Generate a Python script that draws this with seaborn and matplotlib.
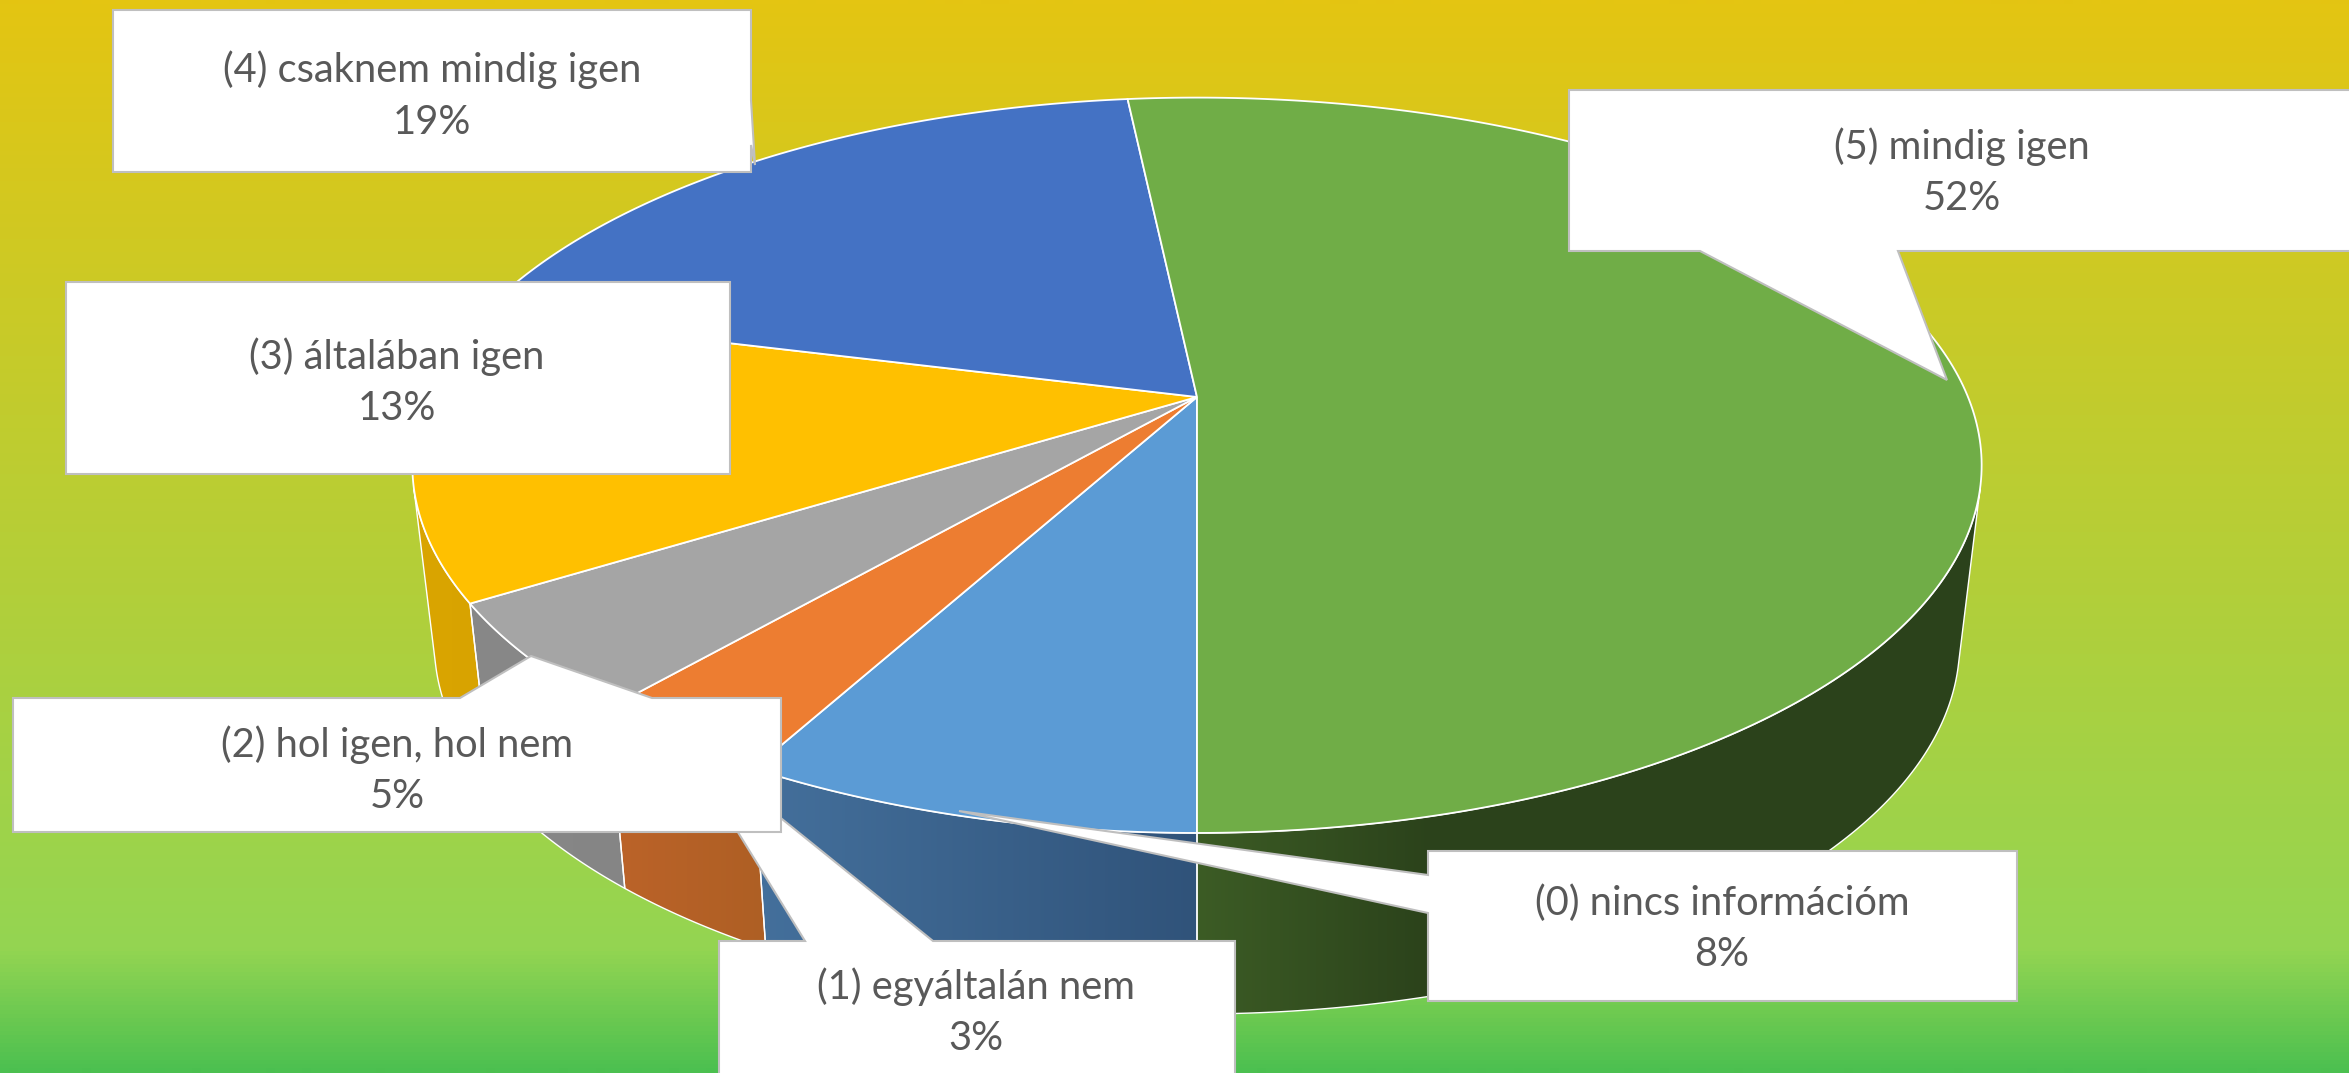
import numpy as np
import matplotlib
matplotlib.use("Agg")
import matplotlib.pyplot as plt
from matplotlib.colors import LinearSegmentedColormap
from matplotlib.patches import Polygon
import seaborn as sns

categories = ["(0) nincs információm", "(1) egyáltalán nem", "(2) hol igen, hol nem",
              "(3) általában igen", "(4) csaknem mindig igen", "(5) mindig igen"]
shares = [8.0, 3.4, 4.8, 12.7, 19.4, 51.7]
share_labels = ["8%", "3%", "5%", "13%", "19%", "52%"]
top_colors = ["#5B9BD5", "#ED7D31", "#A5A5A5", "#FFC000", "#4472C4", "#70AD47"]
side_left = ["#44709C", "#BC6329", "#888888", "#DAA500", "#2F5597", "#3C5C25"]
side_right = ["#30537A", "#AE5F24", "#858585", "#D8A300", "#2F5597", "#2B421B"]

W, H = 2349, 1073
sns.set_theme(style="white")
plt.rcParams["font.family"] = ["Lato", "DejaVu Sans"]
palette = sns.color_palette(top_colors)

fig = plt.figure(figsize=(W / 100, H / 100), dpi=100)
ax = fig.add_axes([0, 0, 1, 1])
ax.set_axis_off()

# background gradient
bg = LinearSegmentedColormap.from_list(
    "bg", [(0, "#E4C512"), (950 / H, "#94D552"), (1, "#4CC050")])
ax.imshow(np.linspace(0, 1, H)[:, None], cmap=bg, vmin=0, vmax=1, aspect="auto",
          extent=(0, W, H, 0), interpolation="bilinear", zorder=0)

# perspective projection of the pie disc
CX, CY, A, B, K = 1197, 397, 771, 355, 0.1857
DROP, SX, SY = 177.5, 0.972, 1.008


def disc(theta, lower=False):
    X, Y = -np.sin(theta), -np.cos(theta)
    den = 1 + K * Y
    sx, sy, d = (SX, SY, DROP) if lower else (1.0, 1.0, 0.0)
    return np.column_stack([CX + sx * A * X / den, CY + d - sy * B * Y / den])


edges = np.radians(np.concatenate([[0], np.cumsum(shares)]) * 360 / np.sum(shares))

# side walls with a horizontal gradient; only the viewer-facing part of each arc
for i, (a0, a1) in enumerate(zip(edges[:-1], edges[1:])):
    t = np.linspace(a0, a1, 600)
    top, low = disc(t), disc(t, lower=True)
    tangent = np.gradient(top, axis=0)
    ruling = low - top
    t = t[tangent[:, 0] * ruling[:, 1] - tangent[:, 1] * ruling[:, 0] < 0]
    if len(t) < 2:
        continue
    pts = np.vstack([disc(t), disc(t[::-1], lower=True)])
    patch = Polygon(pts, closed=True, facecolor="none", edgecolor="none", zorder=2)
    ax.add_patch(patch)
    cmap = LinearSegmentedColormap.from_list(f"s{i}", [side_left[i], side_right[i]])
    x0, x1 = pts[:, 0].min(), pts[:, 0].max()
    if i == 5:
        cmap = LinearSegmentedColormap.from_list(
            "g", [(0, side_left[i]), (0.3, side_right[i]), (1, side_right[i])])
    im = ax.imshow(np.linspace(0, 1, 256)[None, :], cmap=cmap, aspect="auto",
                   extent=(x0, x1, pts[:, 1].max(), pts[:, 1].min()), zorder=2)
    im.set_clip_path(patch)
    ax.add_patch(Polygon(pts, closed=True, facecolor="none", edgecolor="white",
                         linewidth=1.0, zorder=3))

# top faces
for i, (a0, a1) in enumerate(zip(edges[:-1], edges[1:])):
    t = np.linspace(a0, a1, 240)
    pts = np.vstack([[CX, CY], disc(t)])
    ax.add_patch(Polygon(pts, closed=True, facecolor=palette[i], edgecolor="white",
                         linewidth=1.3, zorder=4))

# callouts: outline polygon, then the two text lines
callouts = [
    ([(1428, 851), (2017, 851), (2017, 1001), (1428, 1001), (1428, 913), (959, 811), (1428, 875)], 1722, 926),
    ([(719, 941), (805, 941), (678, 735), (933, 941), (1235, 941), (1235, 1090), (719, 1090)], 976, 1010),
    ([(13, 698), (460, 698), (531, 656), (652, 698), (781, 698), (781, 832), (13, 832)], 397, 768),
    ([(66, 282), (730, 282), (730, 474), (66, 474)], 397, 380),
    ([(113, 10), (751, 10), (751, 100), (755, 165), (751, 145), (751, 172), (113, 172)], 432, 93),
    ([(1569, 90), (2360, 90), (2360, 251), (1898, 251), (1947, 380), (1700, 251), (1569, 251)], 1962, 170),
]
for j, (outline, tx, ty) in enumerate(callouts):
    ax.add_patch(Polygon(outline, closed=True, facecolor="white", edgecolor="#BFBFBF",
                         linewidth=1.5, joinstyle="miter", zorder=5 + j))
    ax.text(tx, ty - 23, categories[j], ha="center", va="center", fontsize=28.7,
            color="#595959", zorder=5.5 + j)
    ax.text(tx, ty + 29, share_labels[j], ha="center", va="center", fontsize=28.7,
            color="#595959", zorder=5.5 + j)

ax.set_xlim(0, W)
ax.set_ylim(H, 0)
fig.savefig("out.png", dpi=100)
